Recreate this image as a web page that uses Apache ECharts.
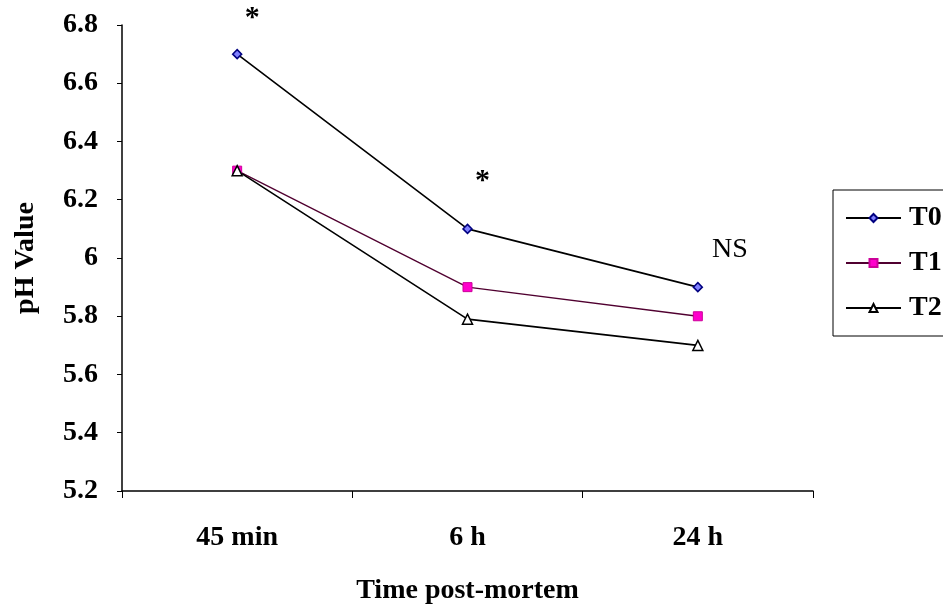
<!DOCTYPE html>
<html><head><meta charset="utf-8">
<script src="https://cdn.jsdelivr.net/npm/echarts@6/dist/echarts.min.js"></script>
<style>html,body{margin:0;padding:0;background:#fff}#c{width:943px;height:610px}</style>
</head><body><div id="c"></div>
<script>
const categories = ['45 min', '6 h', '24 h'];
const T0 = [6.7, 6.1, 5.9];
const T1 = [6.3, 5.9, 5.8];
const T2 = [6.3, 5.79, 5.7];
const annotCats = ['45 min', '6 h', '24 h'];
const annotVals = [6.84, 6.28, 6.03];
const annotText = ['*', '*', 'NS'];

const font = '"Liberation Serif", "Times New Roman", serif';
const chart = echarts.init(document.getElementById('c'), null, {renderer: 'canvas'});

const annotData = annotCats.map((c, i) => ({
  value: [c, annotVals[i]],
  label: {
    show: true, formatter: annotText[i], position: 'inside',
    offset: [annotText[i] === 'NS' ? 32 : 15, annotText[i] === '*' ? 5 : 0],
    color: '#000', opacity: 1, textBorderWidth: 0, fontFamily: font,
    fontSize: annotText[i] === '*' ? 30 : 28,
    fontWeight: annotText[i] === '*' ? 'bold' : 'normal'
  }
}));

const axisFont = {fontFamily: font, fontSize: 28, fontWeight: 'bold', color: '#000'};

chart.setOption({
  animation: false,
  backgroundColor: '#fff',
  grid: {left: 122, right: 130, top: 25, bottom: 119, containLabel: false},
  legend: {
    left: 833, top: 190, orient: 'vertical',
    itemWidth: 55, itemHeight: 10, itemGap: 17,
    padding: [14, 20, 14, 12],
    borderColor: '#000', borderWidth: 1,
    textStyle: Object.assign({padding: [0, 0, 0, 3]}, axisFont),
    data: ['T0', 'T1', 'T2']
  },
  xAxis: {
    type: 'category', data: categories, boundaryGap: true,
    name: 'Time post-mortem', nameLocation: 'middle', nameGap: 86,
    nameTextStyle: axisFont,
    axisLine: {lineStyle: {color: '#000', width: 1.5}},
    axisTick: {show: true, length: 7, lineStyle: {color: '#000'}},
    axisLabel: Object.assign({margin: 33}, axisFont)
  },
  yAxis: {
    type: 'value', min: 5.2, max: 6.8, interval: 0.2,
    name: 'pH Value', nameLocation: 'middle', nameGap: 82, nameRotate: 90,
    nameTextStyle: axisFont,
    axisLine: {show: true, lineStyle: {color: '#000', width: 1.5}},
    axisTick: {show: true, length: 5, lineStyle: {color: '#000'}},
    splitLine: {show: false},
    axisLabel: Object.assign({margin: 24,
      formatter: v => String(parseFloat(v.toFixed(1)))}, axisFont)
  },
  series: [
    {name: 'T0', type: 'line', data: T0, symbol: 'diamond', symbolSize: 9,
     lineStyle: {color: '#000', width: 1.6},
     itemStyle: {color: '#8080ff', borderColor: '#000080', borderWidth: 1.5}},
    {name: 'T1', type: 'line', data: T1, symbol: 'rect', symbolSize: 9,
     lineStyle: {color: '#500030', width: 1.3},
     itemStyle: {color: '#ff00cc', borderColor: '#cc0099', borderWidth: 1}},
    {name: 'T2', type: 'line', data: T2, symbol: 'triangle', symbolSize: 10,
     lineStyle: {color: '#000', width: 1.6},
     itemStyle: {color: '#fff', borderColor: '#000', borderWidth: 1.5}},
    {name: 'annot', type: 'scatter', data: annotData, symbolSize: 1, clip: false,
     itemStyle: {color: 'rgba(0,0,0,0)', opacity: 1}, silent: true}
  ]
});
</script></body></html>
